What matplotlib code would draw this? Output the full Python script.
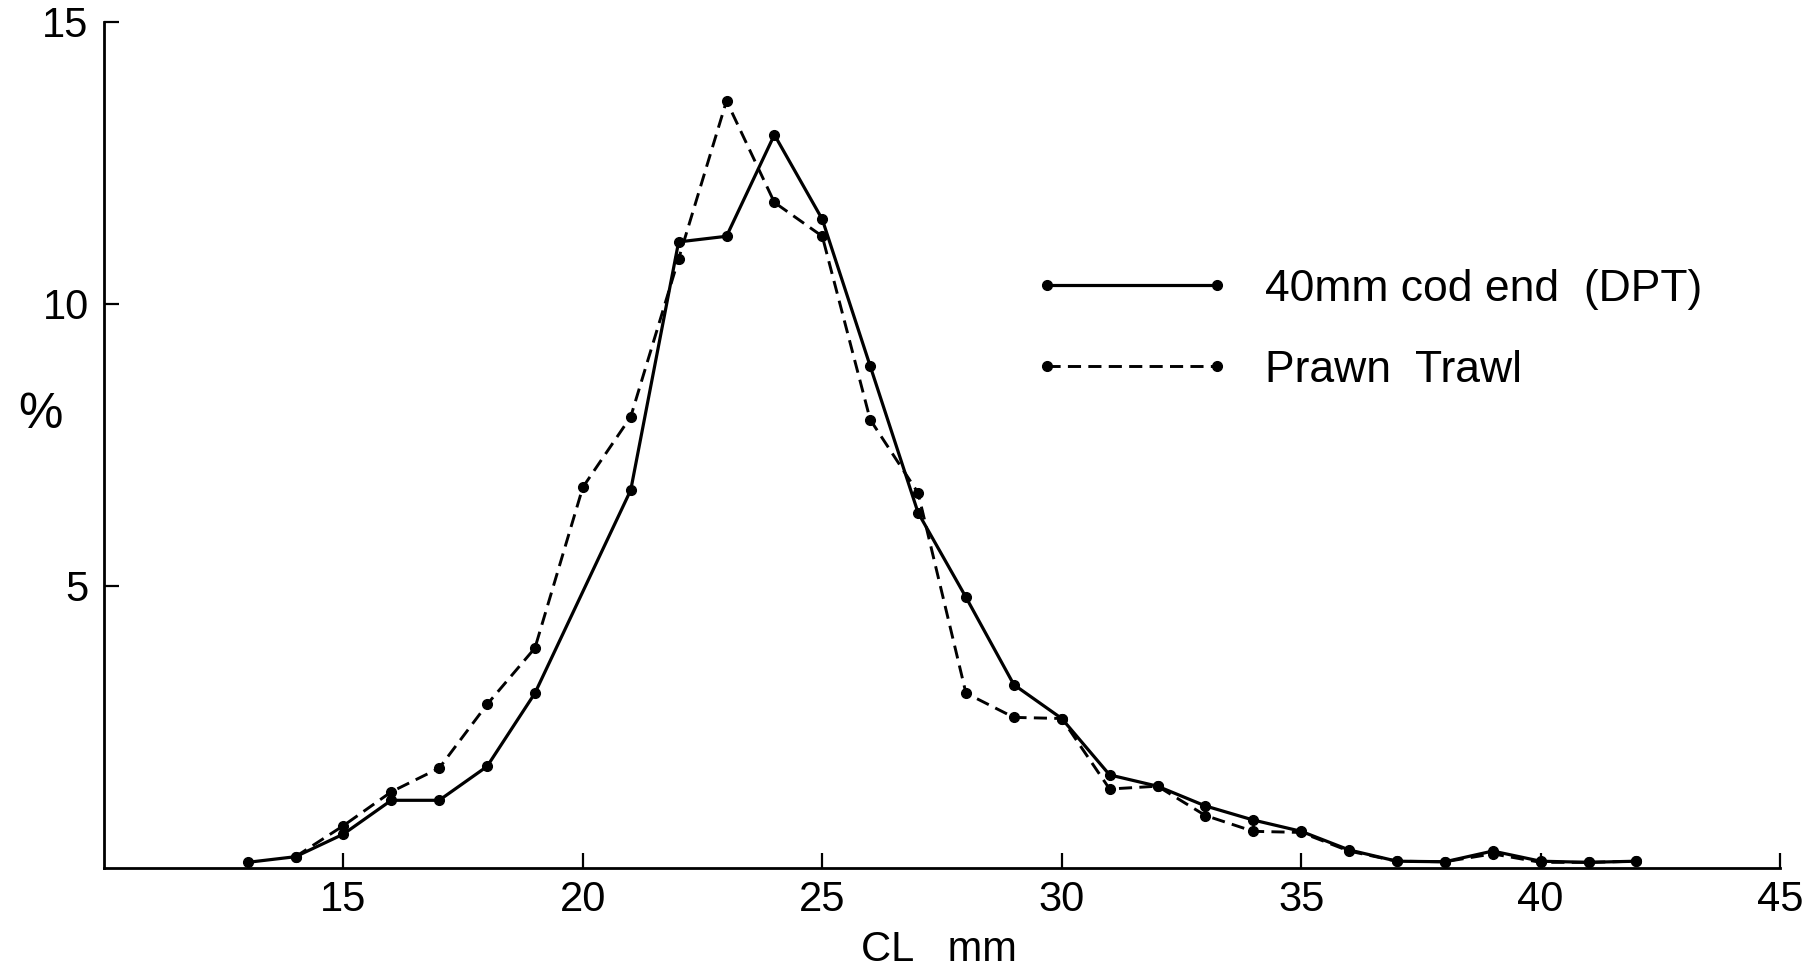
import matplotlib
matplotlib.use("Agg")
import matplotlib.pyplot as plt

# Carapace length (mm) and percentage frequency for each gear
cl_dpt = [13, 14, 15, 16, 17, 18, 19, 21, 22, 23, 24, 25, 26, 27, 28, 29, 30,
          31, 32, 33, 34, 35, 36, 37, 38, 39, 40, 41, 42]
pct_dpt = [0.1, 0.2, 0.6, 1.2, 1.2, 1.8, 3.1, 6.7, 11.1, 11.2, 13.0, 11.5, 8.9,
           6.3, 4.8, 3.25, 2.65, 1.65, 1.45, 1.1, 0.85, 0.65, 0.32, 0.12, 0.11,
           0.3, 0.12, 0.1, 0.12]

cl_prawn = [14, 15, 16, 17, 18, 19, 20, 21, 22, 23, 24, 25, 26, 27, 28, 29, 30,
            31, 32, 33, 34, 35, 36, 37, 38, 39, 40, 41, 42]
pct_prawn = [0.2, 0.75, 1.35, 1.77, 2.9, 3.9, 6.75, 8.0, 10.8, 13.6, 11.8, 11.2,
             7.95, 6.65, 3.1, 2.67, 2.65, 1.4, 1.45, 0.93, 0.65, 0.63, 0.3, 0.12,
             0.11, 0.25, 0.1, 0.1, 0.12]

label_dpt = "40mm cod end  (DPT)"
label_prawn = "Prawn  Trawl"

x_ticks = [15, 20, 25, 30, 35, 40, 45]
y_ticks = [5, 10, 15]

plt.rcParams["font.family"] = ["Liberation Sans", "DejaVu Sans"]

fig = plt.figure(figsize=(18.14, 9.67), dpi=100)
ax = fig.add_axes([0.0573, 0.1024, 0.924, 0.8749])

ax.plot(cl_dpt, pct_dpt, color="black", lw=2.3, ls="-",
        marker="o", ms=7, label=label_dpt)
ax.plot(cl_prawn, pct_prawn, color="black", lw=2.1, ls=(0, (4.5, 2.5)),
        marker="o", ms=7, label=label_prawn)

ax.set_xlim(10, 45)
ax.set_ylim(0, 15)
ax.set_xticks(x_ticks)
ax.set_yticks(y_ticks)

for side in ("top", "right"):
    ax.spines[side].set_visible(False)
for side in ("left", "bottom"):
    ax.spines[side].set_linewidth(2.0)
    ax.spines[side].set_color("black")

ax.tick_params(axis="both", direction="in", length=11, width=1.6,
               labelsize=30, colors="black")
ax.tick_params(axis="x", pad=9)
ax.tick_params(axis="y", pad=11)

ax.set_xlabel("CL   mm", fontsize=30)
ax.xaxis.set_label_coords(0.498, -0.097)
ax.xaxis.label.set_va("center")

ax.set_ylabel("%", fontsize=36, rotation=0)
ax.yaxis.set_label_coords(-0.038, 0.536)
ax.yaxis.label.set_va("center")
ax.yaxis.label.set_ha("center")

ax.legend(loc="center left", bbox_to_anchor=(0.5548, 0.636), frameon=False,
          numpoints=2, fontsize=32, borderpad=0, borderaxespad=0,
          handlelength=4.43, handletextpad=0.77, labelspacing=0.9)

fig.savefig("out.png", dpi=100, facecolor="white")
